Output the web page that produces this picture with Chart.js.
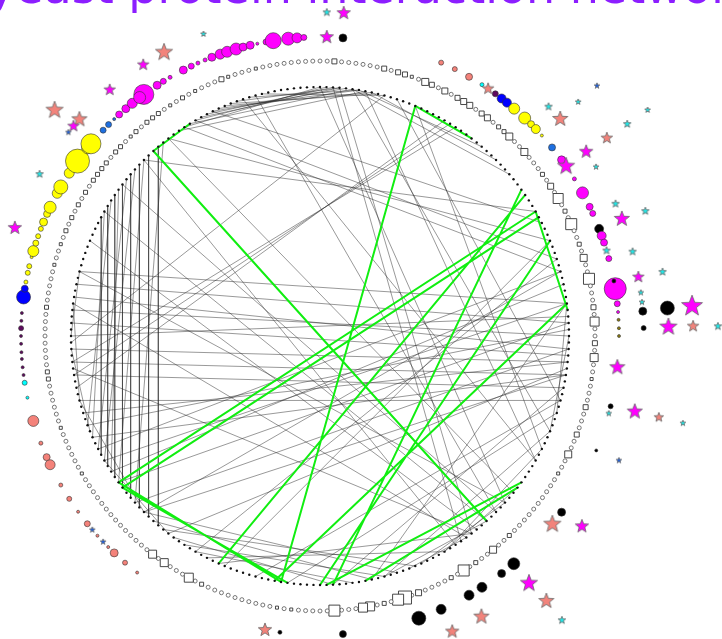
<!DOCTYPE html>
<html>
<head>
<meta charset="utf-8">
<script src="https://cdn.jsdelivr.net/npm/chart.js@4.4.1/dist/chart.umd.min.js"></script>
<style>
  html, body { margin: 0; padding: 0; background: #fff; }
  canvas { display: block; }
</style>
</head>
<body>
<canvas id="canvas" width="722" height="639"></canvas>
<script>
const TITLE = 'yeast protein interaction network by chromosome position';

// 240 nodes evenly spaced around the circle (1.5 degrees apart)
const NODE_COUNT = 240;
const NODE_STEP = 360 / NODE_COUNT;

// marker of each node on the inner track: 0 = small circle, >0 = square side
const ringSizes = [
  0, 0, 5, 0, 0, 0, 0, 0, 0, 5, 0, 5, 5, 3, 0, 7, 5, 0, 6, 0,
  5, 6, 6, 0, 5, 6, 0, 4, 4, 7, 0, 0, 7, 0, 0, 0, 4, 0, 6, 0,
  10, 0, 4, 0, 11, 0, 0, 4, 0, 7, 0, 0, 11, 0, 0, 0, 5, 0, 9, 0,
  0, 5, 0, 8, 0, 0, 3, 0, 0, 0, 5, 0, 0, 0, 5, 0, 0, 7, 0, 0,
  3, 0, 0, 0, 0, 0, 0, 0, 0, 0, 0, 4, 0, 0, 7, 0, 0, 4, 0, 11,
  0, 4, 0, 0, 0, 0, 6, 0, 13, 11, 0, 4, 0, 9, 9, 0, 0, 0, 11, 0,
  0, 0, 0, 0, 3, 0, 3, 0, 0, 0, 0, 0, 0, 0, 0, 0, 0, 4, 0, 9,
  0, 0, 0, 8, 0, 8, 0, 0, 0, 0, 0, 0, 0, 0, 0, 0, 0, 0, 0, 0,
  3, 0, 0, 0, 0, 0, 0, 3, 0, 0, 0, 0, 0, 0, 4, 4, 0, 0, 0, 0,
  0, 0, 0, 0, 4, 0, 0, 0, 0, 0, 3, 0, 0, 3, 0, 4, 0, 4, 0, 4,
  0, 4, 0, 4, 4, 4, 4, 0, 4, 4, 0, 3, 4, 0, 4, 4, 4, 0, 3, 0,
  4, 0, 3, 0, 0, 0, 5, 3, 0, 0, 0, 3, 0, 0, 0, 0, 0, 0, 0, 0
];

// circle track: position (degrees), radius, group, level (0 = on track)
const spotAngles = [
  4.4, 23.9, 26.8, 29.9, 32.8, 35.9, 37.4, 38.7, 40.5, 43.2, 44.9, 46.2, 47.9, 50.9,
  53.9, 58.3, 61.4, 64.4, 65.8, 69.0, 70.4, 71.8, 75.0, 80.9, 79.4, 83.8, 85.4,
  86.9, 88.5, 90.0, 85.6, 85.4, 88.6, 103.6, 112.5, 126.1, 139.6, 142.6, 147.2,
  150.1, 156.1, 160.7, 175.6, 187.7,
  217.7, 220.7, 223.5, 225.1, 228.1, 231.1, 234.0, 237.0, 240.1, 244.5, 246.1, 249.0,
  253.5, 258.1, 261.0, 262.5, 264.0, 265.6, 266.9, 268.5, 270.0, 271.5, 272.9, 274.4,
  277.5, 279.1, 280.4, 282.2, 283.5, 285.3, 286.5, 288.1, 289.5, 291.0, 292.4, 294.1,
  295.5, 298.5, 299.9, 303.0, 304.4, 305.8, 309.0, 310.0, 313.5, 315.0, 316.5,
  317.8, 319.5, 321.1, 323.9, 322.9, 327.0, 328.4, 329.9, 332.8, 334.5, 335.9, 337.4,
  338.8, 340.5, 341.9, 343.7, 345.1, 346.5, 347.9, 349.6, 351.0, 353.9, 355.6, 356.9
];
const spotSizes = [
  4, 2.5, 2.5, 3.5, 2, 3, 4.5, 4.5, 5.5, 6, 3.5, 4.5, 1.5, 3.5,
  4, 2, 6, 3.5, 3, 4.5, 4.5, 3.5, 3, 11, 2, 3, 1.5,
  1.5, 1.5, 1.5, 4, 7, 2.5, 2.5, 1.5, 4, 6, 4, 5,
  5, 5, 7, 3.5, 2,
  1.5, 2.5, 4, 1.5, 1.5, 3, 1.5, 2.5, 2, 5, 3.5, 2,
  5.5, 1.5, 2.5, 1.5, 1.5, 1.5, 1.5, 1.5, 1.5, 2.5, 1.5, 1.5,
  7, 3.5, 2, 2.5, 2.5, 1.5, 5.5, 3, 2.5, 2.5, 4, 3.5,
  6, 5, 7, 5, 3, 12, 6, 10, 3, 3, 1.5,
  3.5, 4, 5, 10, 6, 4, 3, 2, 4, 3, 2, 2,
  4, 5, 5.5, 6, 4, 4, 1.5, 3, 8, 6.5, 5, 3
];
const spotGroups = [
  'black', 'salmon', 'salmon', 'salmon', 'cyan', 'plum', 'blue', 'blue', 'yellow', 'yellow', 'yellow', 'yellow', 'yellow', 'azure',
  'magenta', 'magenta', 'magenta', 'magenta', 'magenta', 'black', 'magenta', 'magenta', 'magenta', 'magenta', 'black', 'magenta', 'magenta',
  'olive', 'olive', 'olive', 'black', 'black', 'black', 'black', 'black', 'black', 'black', 'black', 'black',
  'black', 'black', 'black', 'black', 'black',
  'salmon', 'salmon', 'salmon', 'salmon', 'salmon', 'salmon', 'salmon', 'salmon', 'salmon', 'salmon', 'salmon', 'salmon',
  'salmon', 'cyan', 'cyan', 'plum', 'plum', 'plum', 'plum', 'plum', 'plum', 'plum', 'plum', 'plum',
  'blue', 'blue', 'yellow', 'yellow', 'yellow', 'yellow', 'yellow', 'yellow', 'yellow', 'yellow', 'yellow', 'yellow',
  'yellow', 'yellow', 'yellow', 'yellow', 'yellow', 'yellow', 'yellow', 'yellow', 'azure', 'azure', 'azure',
  'magenta', 'magenta', 'magenta', 'magenta', 'magenta', 'magenta', 'magenta', 'magenta', 'magenta', 'magenta', 'magenta', 'magenta',
  'magenta', 'magenta', 'magenta', 'magenta', 'magenta', 'magenta', 'magenta', 'magenta', 'magenta', 'magenta', 'magenta', 'magenta'
];
const spotLevels = [
  0, 0, 0, 0, 0, 0, 0, 0, 0, 0, 0, 0, 0, 0,
  0, 0, 0, 0, 0, 0, 0, 0, 0, 0, 0, 0, 0,
  0, 0, 0, 1, 2, 1, 0, 0, 0, 0, 0, 0,
  0, 0, 0, 0, 0
];

// star track: position (degrees), level, size, group
const starAngles = [
  1.2, 4.2, 1.3, 338.9, 331.2, 326.9, 319.5, 310.4, 312.0, 310.4, 309.0, 300.0, 289.5,
  34.2, 47.9, 44.9, 47.8, 55.4, 47.9, 55.4, 55.4, 55.3, 58.5, 55.4, 73.4, 65.9, 68.8,
  69.0, 74.9, 79.5, 79.4, 82.3, 84.0, 85.4, 88.5, 88.5, 88.6, 96.0, 105.0, 103.5,
  103.5, 103.5, 112.6, 129.0, 126.0, 139.8, 139.5, 139.6, 150.1, 155.9, 190.6, 226.5, 229.6
];
const starLevels = [
  1, 1, 0, 1, 1, 1, 1, 2, 1, 1, 1, 1, 1,
  0, 3, 1, 2, 4, 1, 3, 2, 1, 1, 0, 0, 1, 1,
  2, 1, 1, 2, 1, 1, 3, 2, 3, 4, 0, 0, 1,
  2, 3, 1, 0, 1, 1, 2, 3, 1, 1, 0, 0, 0
];
const starSizes = [
  4, 7, 7, 3, 9, 6, 6, 9, 8, 6, 3, 4, 7,
  6, 3, 4, 3, 3, 8, 4, 6, 7, 3, 9, 4, 4, 8,
  4, 4, 6, 4, 3, 3, 11, 9, 6, 4, 8, 3, 8,
  5, 3, 3, 9, 7, 9, 8, 4, 8, 7, 7, 3, 3
];
const starGroups = [
  'cyan', 'magenta', 'magenta', 'cyan', 'salmon', 'magenta', 'magenta', 'salmon', 'salmon', 'magenta', 'blue', 'cyan', 'magenta',
  'salmon', 'blue', 'cyan', 'cyan', 'cyan', 'salmon', 'cyan', 'salmon', 'magenta', 'cyan', 'magenta', 'cyan', 'cyan', 'magenta',
  'cyan', 'cyan', 'magenta', 'cyan', 'cyan', 'cyan', 'magenta', 'magenta', 'salmon', 'cyan', 'magenta', 'cyan', 'magenta',
  'salmon', 'cyan', 'blue', 'salmon', 'magenta', 'magenta', 'salmon', 'cyan', 'salmon', 'salmon', 'salmon', 'blue', 'blue'
];

// interactions between nodes (node indices)
const greyEdges = [
  [222, 2], [223, 4], [224, 6], [221, 3], [225, 8], [220, 1], [226, 9], [219, 5], [218, 0], [217, 7],
  [227, 3], [229, 6], [231, 10], [223, 42], [6, 27], [8, 30], [5, 33], [10, 179], [3, 95], [2, 97],
  [172, 20], [174, 21], [176, 22],
  [199, 161], [201, 159], [203, 157], [204, 158], [205, 155], [206, 162], [207, 153], [209, 151],
  [210, 156], [211, 149], [213, 147], [214, 152], [202, 166], [200, 164], [208, 160],
  [186, 62], [184, 60], [182, 63], [188, 58], [178, 64], [176, 66], [180, 57], [190, 55], [174, 68],
  [170, 70], [168, 64], [166, 59], [164, 66],
  [160, 55], [158, 52], [162, 50], [156, 58], [152, 62], [150, 66],
  [92, 200], [94, 195], [90, 205], [96, 185], [88, 190], [98, 210], [86, 215], [95, 175],
  [140, 115], [142, 110], [144, 118], [146, 105], [148, 112], [138, 100], [150, 108], [136, 95],
  [50, 150], [48, 140], [45, 135], [65, 145], [70, 130], [72, 125], [75, 110], [68, 118], [78, 100], [55, 112],
  [5, 75], [7, 80], [12, 70], [15, 78], [0, 88], [230, 90], [228, 80],
  [215, 45], [218, 50], [220, 48], [210, 40],
  [180, 190], [170, 185], [165, 178], [150, 170], [145, 160], [85, 100], [88, 104], [92, 110], [96, 106],
  [60, 75], [55, 72]
];
const greenEdges = [
  [212, 92], [212, 219], [15, 126], [15, 25], [156, 40], [155, 41], [156, 126], [155, 125],
  [55, 127], [45, 120], [36, 118], [85, 113], [37, 136], [40, 56], [84, 119]
];

// track radii
const NODE_R = 249;
const RING_R = 275;
const SPOT_R = 299;
const LEVEL_STEP = 24.75;

const COLORS = {
  magenta: '#ff00ff', yellow: '#ffff00', blue: '#0000ff', azure: '#1e6fe0',
  salmon: '#f4827a', cyan: '#00ffff', plum: '#5e0a5e', olive: '#8a7a10', black: '#000000'
};
const STAR_COLORS = { magenta: '#ff00ff', salmon: '#f2837b', cyan: '#20e6e6', blue: '#1c5fe0' };

function polar(angle, r) {
  const a = angle * Math.PI / 180;
  return { x: r * Math.sin(a), y: r * Math.cos(a) };
}

const nodePoints = [];
for (let i = 0; i < NODE_COUNT; i++) {
  nodePoints.push(polar(i * NODE_STEP, NODE_R));
}
const ringPoints = ringSizes.map((s, i) => polar(i * NODE_STEP, RING_R));

function edgeData(edges) {
  let data = [];
  edges.forEach(function(e) {
    data.push(polar(e[0] * NODE_STEP, NODE_R));
    data.push(polar(e[1] * NODE_STEP, NODE_R));
    data.push({ x: null, y: null });
  });
  return data;
}

const spotPoints = spotAngles.map((a, i) => polar(a, SPOT_R + (spotLevels[i] || 0) * LEVEL_STEP));
const starPoints = starAngles.map((a, i) => polar(a, SPOT_R + starLevels[i] * LEVEL_STEP));

function starImage(size, color) {
  const c = document.createElement('canvas');
  const dim = Math.ceil(size * 2 + 4);
  c.width = dim;
  c.height = dim;
  const g = c.getContext('2d');
  g.translate(dim / 2, dim / 2);
  g.beginPath();
  for (let k = 0; k < 10; k++) {
    const rr = k % 2 === 0 ? size : size * 0.42;
    const a = -Math.PI / 2 + k * Math.PI / 5;
    g.lineTo(rr * Math.cos(a), rr * Math.sin(a));
  }
  g.closePath();
  g.fillStyle = color;
  g.fill();
  g.strokeStyle = '#666';
  g.lineWidth = 0.8;
  g.stroke();
  return c;
}
const starImages = starSizes.map((s, i) => starImage(s, STAR_COLORS[starGroups[i]]));

// heading sits above the top edge, only its lowest strokes show
const cutTitle = {
  id: 'cutTitle',
  afterDraw(chart) {
    const c = chart.ctx;
    c.save();
    c.font = '46px "DejaVu Sans"';
    c.fillStyle = '#8c1eff';
    c.textBaseline = 'alphabetic';
    c.fillText(TITLE, -12, 3);
    c.restore();
  }
};

const config = {
  type: 'scatter',
  data: {
    datasets: [
      {
        data: starPoints,
        order: 0,
        pointStyle: ctx => starImages[ctx.dataIndex],
        pointRadius: ctx => starSizes[ctx.dataIndex],
        clip: false
      },
      {
        data: spotPoints,
        order: 1,
        pointStyle: 'circle',
        pointRadius: spotSizes,
        backgroundColor: spotGroups.map(g => COLORS[g]),
        borderColor: '#333',
        borderWidth: 0.6,
        clip: false
      },
      {
        data: ringPoints,
        order: 2,
        pointStyle: ctx => ringSizes[ctx.dataIndex] > 0 ? 'rect' : 'circle',
        pointRadius: ctx => ringSizes[ctx.dataIndex] > 0 ? ringSizes[ctx.dataIndex] / Math.SQRT2 : 2,
        backgroundColor: '#fff',
        borderColor: ctx => ringSizes[ctx.dataIndex] > 0 ? '#333' : '#666',
        borderWidth: 0.9,
        clip: false
      },
      {
        data: nodePoints,
        order: 3,
        pointStyle: 'circle',
        pointRadius: 1.2,
        backgroundColor: '#111',
        borderWidth: 0,
        clip: false
      },
      {
        data: edgeData(greenEdges),
        order: 4,
        showLine: true,
        spanGaps: false,
        pointRadius: 0,
        borderColor: '#11ee11',
        borderWidth: 2,
        clip: false
      },
      {
        data: edgeData(greyEdges),
        order: 5,
        showLine: true,
        spanGaps: false,
        pointRadius: 0,
        borderColor: 'rgba(40,40,40,0.6)',
        borderWidth: 0.8,
        clip: false
      }
    ]
  },
  options: {
    responsive: false,
    animation: false,
    devicePixelRatio: 1,
    events: [],
    layout: { padding: 0, autoPadding: false },
    plugins: {
      legend: { display: false },
      tooltip: { enabled: false }
    },
    scales: {
      x: { type: 'linear', display: false, min: -320, max: 402 },
      y: { type: 'linear', display: false, min: -303, max: 336 }
    }
  },
  plugins: [cutTitle]
};

new Chart(document.getElementById('canvas'), config);
</script>
</body>
</html>
